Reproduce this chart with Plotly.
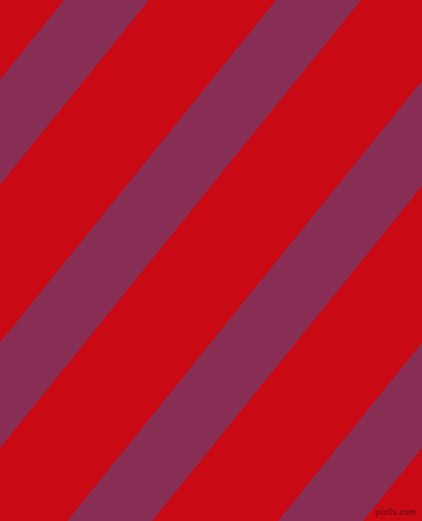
import plotly.graph_objects as go

# canvas
W, H = 422, 521

# stripe data
stripe_top_x = [64, 276, 487, 698]    # left edge of each purple band where it meets the top
stripe_width = 85                     # horizontal width of a purple band
stripe_lean = 0.806                   # x shift per pixel going down

red = "#C90A15"
purple = "#882D53"

fig = go.Figure()

for x0 in stripe_top_x:
    y_top, y_bot = -20, H + 20
    xs = [x0 + stripe_lean * 20, x0 + stripe_width + stripe_lean * 20,
          x0 + stripe_width - stripe_lean * y_bot, x0 - stripe_lean * y_bot]
    ys = [y_top, y_top, y_bot, y_bot]
    fig.add_trace(go.Scatter(x=xs + [xs[0]], y=ys + [ys[0]], mode="lines", fill="toself",
                             fillcolor=purple, line=dict(width=0, color=purple),
                             hoverinfo="skip", showlegend=False))

# little watermark, bottom right
fig.add_annotation(x=418, y=519, xref="x", yref="y", text="<b>pixlis.com</b>", showarrow=False,
                   xanchor="right", yanchor="bottom",
                   font=dict(family="DejaVu Sans Condensed", size=8, color="#8C0912"))

fig.update_xaxes(range=[0, W], visible=False, fixedrange=True)
fig.update_yaxes(range=[H, 0], visible=False, fixedrange=True)
fig.update_layout(width=W, height=H, margin=dict(l=0, r=0, t=0, b=0),
                  paper_bgcolor=red, plot_bgcolor=red)

fig.write_html("out.html", config={"displayModeBar": False},
               post_script="document.body.style.margin='0';")
